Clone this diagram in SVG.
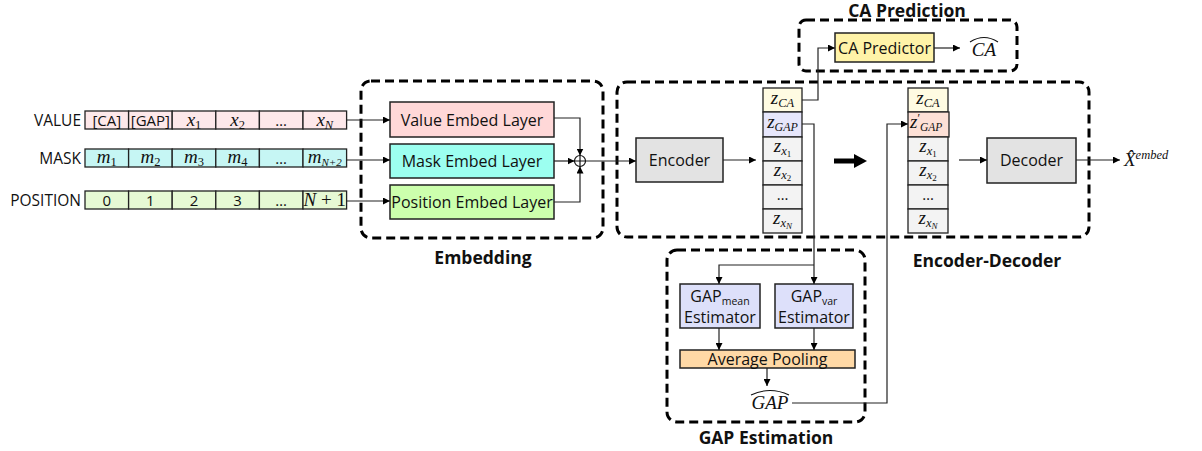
<svg xmlns="http://www.w3.org/2000/svg" width="1202" height="451" viewBox="0 0 1202 451">
<defs>
<marker id="ah" viewBox="0 0 10 10" refX="10" refY="5" markerWidth="7" markerHeight="7" markerUnits="userSpaceOnUse" orient="auto"><path d="M0,0 L10,5 L0,10 z" fill="#000"/></marker>
<style>
.dash{fill:none;stroke:#000;stroke-width:3;stroke-dasharray:9 5}
.box{stroke:#222;stroke-width:1.5}
.cell{stroke:#222;stroke-width:1.3}
.t{font-family:"Open Sans","Liberation Sans",sans-serif;font-size:16px;fill:#111;text-anchor:middle}
.tc{font-family:"Open Sans","Liberation Sans",sans-serif;font-size:15px;fill:#111;text-anchor:middle}
.lbl{font-family:"Open Sans","Liberation Sans",sans-serif;font-size:17.5px;font-weight:bold;fill:#111;text-anchor:middle}
.rl{font-family:"Open Sans","Liberation Sans",sans-serif;font-size:15.5px;fill:#111;text-anchor:end}
.m{font-family:"Liberation Serif","DejaVu Serif",serif;font-style:italic;font-size:19px;fill:#111;text-anchor:middle}
.s{font-size:12.5px}
.ss{font-size:9px}
.ln{fill:none;stroke:#222;stroke-width:1.2}
.val{fill:#fde8ea}.mask{fill:#c6f6f4}.pos{fill:#e6f9d4}
.zca{fill:#fffbe2}.zgap{fill:#e6e6fb}.zx{fill:#f3f3f3}.zgp{fill:#fde0d6}
.gray{fill:#e3e3e3}
</style>
</defs>

<!-- dashed groups -->
<g id="groups">
<rect class="dash" x="361" y="81" width="242" height="157" rx="10"/>
<rect class="dash" x="617" y="82" width="472" height="155" rx="10"/>
<rect class="dash" x="799" y="20" width="218" height="51" rx="7"/>
<rect class="dash" x="667" y="250" width="198" height="172" rx="10"/>
<text class="lbl" x="483" y="264">Embedding</text>
<text class="lbl" x="987" y="267">Encoder-Decoder</text>
<text class="lbl" x="907" y="17" font-size="17">CA Prediction</text>
<text class="lbl" x="766" y="444">GAP Estimation</text>
</g>

<!-- input rows -->
<g id="value-row">
<text class="rl" x="81" y="126">VALUE</text>
<rect class="cell val" x="85" y="111" width="43.6" height="18"/>
<rect class="cell val" x="128.6" y="111" width="43.6" height="18"/>
<rect class="cell val" x="172.2" y="111" width="43.6" height="18"/>
<rect class="cell val" x="215.8" y="111" width="43.6" height="18"/>
<rect class="cell val" x="259.4" y="111" width="43.6" height="18"/>
<rect class="cell val" x="303" y="111" width="43.6" height="18"/>
<text class="tc" x="106.8" y="125.5">[CA]</text>
<text class="tc" x="150.4" y="125.5">[GAP]</text>
<text class="m" x="194" y="125.5">x<tspan class="s" font-style="normal" dy="3">1</tspan></text>
<text class="m" x="237.6" y="125.5">x<tspan class="s" font-style="normal" dy="3">2</tspan></text>
<text class="tc" x="281.2" y="125.5">…</text>
<text class="m" x="324.8" y="125.5">x<tspan class="s" dy="3">N</tspan></text>
</g>
<g id="mask-row">
<text class="rl" x="81" y="164">MASK</text>
<rect class="cell mask" x="85" y="149" width="43.6" height="18"/>
<rect class="cell mask" x="128.6" y="149" width="43.6" height="18"/>
<rect class="cell mask" x="172.2" y="149" width="43.6" height="18"/>
<rect class="cell mask" x="215.8" y="149" width="43.6" height="18"/>
<rect class="cell mask" x="259.4" y="149" width="43.6" height="18"/>
<rect class="cell mask" x="303" y="149" width="43.6" height="18"/>
<text class="m" x="106.8" y="163">m<tspan class="s" font-style="normal" dy="3">1</tspan></text>
<text class="m" x="150.4" y="163">m<tspan class="s" font-style="normal" dy="3">2</tspan></text>
<text class="m" x="194" y="163">m<tspan class="s" font-style="normal" dy="3">3</tspan></text>
<text class="m" x="237.6" y="163">m<tspan class="s" font-style="normal" dy="3">4</tspan></text>
<text class="tc" x="281.2" y="163.5">…</text>
<text class="m" x="324.8" y="163" font-size="17">m<tspan font-size="11" dy="3">N+2</tspan></text>
</g>
<g id="position-row">
<text class="rl" x="81" y="206">POSITION</text>
<rect class="cell pos" x="85" y="191" width="43.6" height="18"/>
<rect class="cell pos" x="128.6" y="191" width="43.6" height="18"/>
<rect class="cell pos" x="172.2" y="191" width="43.6" height="18"/>
<rect class="cell pos" x="215.8" y="191" width="43.6" height="18"/>
<rect class="cell pos" x="259.4" y="191" width="43.6" height="18"/>
<rect class="cell pos" x="303" y="191" width="43.6" height="18"/>
<text class="tc" x="106.8" y="205.5">0</text>
<text class="tc" x="150.4" y="205.5">1</text>
<text class="tc" x="194" y="205.5">2</text>
<text class="tc" x="237.6" y="205.5">3</text>
<text class="tc" x="281.2" y="205.5">…</text>
<text class="m" x="324.8" y="206" font-size="17">N<tspan font-style="normal"> + 1</tspan></text>
</g>

<!-- embed layers -->
<g id="value-embed"><rect class="box" x="390" y="102" width="164" height="35" fill="#ffd8d8"/><text class="t" x="472" y="125.5">Value Embed Layer</text></g>
<g id="mask-embed"><rect class="box" x="390" y="144" width="164" height="34" fill="#9cfff0"/><text class="t" x="472" y="166.5">Mask Embed Layer</text></g>
<g id="position-embed"><rect class="box" x="390" y="185" width="164" height="34" fill="#ccffad"/><text class="t" x="472" y="207.5" font-size="15.5">Position Embed Layer</text></g>
<g id="sum"><circle cx="580" cy="161" r="5.5" fill="#fff" stroke="#111" stroke-width="1.2"/><path d="M574.5,161 H585.5 M580,155.5 V166.5" stroke="#111" stroke-width="1.2"/></g>

<!-- encoder / decoder -->
<g id="encoder"><rect class="box gray" x="636" y="138" width="87" height="44"/><text class="t" x="679.5" y="165.5">Encoder</text></g>
<g id="decoder"><rect class="box gray" x="987" y="138" width="89" height="45"/><text class="t" x="1031.5" y="166">Decoder</text></g>

<!-- latent column 1 -->
<g id="latent-enc">
<rect class="cell zca" x="763" y="88" width="39" height="24"/>
<rect class="cell zgap" x="763" y="112" width="39" height="25"/>
<rect class="cell zx" x="763" y="137" width="39" height="24"/>
<rect class="cell zx" x="763" y="161" width="39" height="24"/>
<rect class="cell zx" x="763" y="185" width="39" height="24"/>
<rect class="cell zx" x="763" y="209" width="39" height="24"/>
<text class="m" x="782.5" y="104">z<tspan class="s" dy="3">CA</tspan></text>
<text class="m" x="782.5" y="128" font-size="18">z<tspan font-size="12" dy="3">GAP</tspan></text>
<text class="m" x="782.5" y="152">z<tspan class="s" dy="3">x</tspan><tspan class="ss" font-style="normal" dy="2">1</tspan></text>
<text class="m" x="782.5" y="176">z<tspan class="s" dy="3">x</tspan><tspan class="ss" font-style="normal" dy="2">2</tspan></text>
<text class="tc" x="782.5" y="200">…</text>
<text class="m" x="782.5" y="224">z<tspan class="s" dy="3">x</tspan><tspan class="ss" dy="2">N</tspan></text>
</g>

<!-- latent column 2 -->
<g id="latent-dec">
<rect class="cell zca" x="908" y="88" width="40" height="24"/>
<rect class="cell zgp" x="908" y="112" width="41" height="25"/>
<rect class="cell zx" x="908" y="137" width="40" height="24"/>
<rect class="cell zx" x="908" y="161" width="40" height="24"/>
<rect class="cell zx" x="908" y="185" width="40" height="24"/>
<rect class="cell zx" x="908" y="209" width="40" height="24"/>
<text class="m" x="928" y="104">z<tspan class="s" dy="3">CA</tspan></text>
<text class="m" x="910" y="128" font-size="18" style="text-anchor:start">z<tspan font-size="12" font-style="normal" dy="-6">′</tspan><tspan font-size="11.5" dy="9">GAP</tspan></text>
<text class="m" x="928" y="152">z<tspan class="s" dy="3">x</tspan><tspan class="ss" font-style="normal" dy="2">1</tspan></text>
<text class="m" x="928" y="176">z<tspan class="s" dy="3">x</tspan><tspan class="ss" font-style="normal" dy="2">2</tspan></text>
<text class="tc" x="928" y="200">…</text>
<text class="m" x="928" y="224">z<tspan class="s" dy="3">x</tspan><tspan class="ss" dy="2">N</tspan></text>
</g>

<!-- CA predictor -->
<g id="ca-predictor"><rect class="box" x="835" y="33" width="99" height="29" fill="#fff3a8"/><text class="t" x="884.5" y="53.5">CA Predictor</text></g>
<g id="ca-hat"><text class="m" x="984" y="56">CA</text><path d="M970,42 Q984,33 998,42" fill="none" stroke="#111" stroke-width="1.1"/></g>

<!-- GAP estimation -->
<g id="gap-mean"><rect class="box" x="680" y="284" width="80" height="44" fill="#dde0fa"/><text class="t" x="720" y="302">GAP<tspan font-size="10.5" dy="3">mean</tspan></text><text class="t" x="720" y="323">Estimator</text></g>
<g id="gap-var"><rect class="box" x="775" y="284" width="78" height="44" fill="#dde0fa"/><text class="t" x="814" y="302">GAP<tspan font-size="10.5" dy="3">var</tspan></text><text class="t" x="814" y="323">Estimator</text></g>
<g id="avg-pool"><rect class="box" x="680" y="350" width="175" height="18" fill="#ffd9a6"/><text class="t" x="767.5" y="365">Average Pooling</text></g>
<g id="gap-hat"><text class="m" x="770" y="409">GAP</text><path d="M751,395 Q770,386 789,395" fill="none" stroke="#111" stroke-width="1.1"/></g>

<!-- output -->
<g id="x-hat"><text class="m" x="1124" y="166" style="text-anchor:start">X̂<tspan class="s" dy="-7">embed</tspan></text></g>

<!-- connectors -->
<g id="connectors">
<path class="ln" d="M347,120 H390" marker-end="url(#ah)"/>
<path class="ln" d="M347,160 H390" marker-end="url(#ah)"/>
<path class="ln" d="M347,201 H390" marker-end="url(#ah)"/>
<path class="ln" d="M554,118 H580 V155.5" marker-end="url(#ah)"/>
<path class="ln" d="M554,161 H574.5" marker-end="url(#ah)"/>
<path class="ln" d="M554,202 H580 V166.5" marker-end="url(#ah)"/>
<path class="ln" d="M585.5,161 H636" marker-end="url(#ah)"/>
<path class="ln" d="M723,160 H756" marker-end="url(#ah)"/>
<path d="M834,161 H856" stroke="#000" stroke-width="5" fill="none"/>
<path d="M854,154 L867,161 L854,168 z" fill="#000"/>
<path class="ln" d="M959,160 H987" marker-end="url(#ah)"/>
<path class="ln" d="M1076,160 H1120" marker-end="url(#ah)"/>
<path class="ln" d="M802,100 H818 V48 H835" marker-end="url(#ah)"/>
<path class="ln" d="M934,48 H960" marker-end="url(#ah)"/>
<path class="ln" d="M802,124 H814 V284" marker-end="url(#ah)"/>
<path class="ln" d="M814,265 H719 V284" marker-end="url(#ah)"/>
<path class="ln" d="M719,328 V350" marker-end="url(#ah)"/>
<path class="ln" d="M814,328 V350" marker-end="url(#ah)"/>
<path class="ln" d="M767,368 V386" marker-end="url(#ah)"/>
<path class="ln" d="M792,403 H887 V124 H908" marker-end="url(#ah)"/>
</g>
</svg>
